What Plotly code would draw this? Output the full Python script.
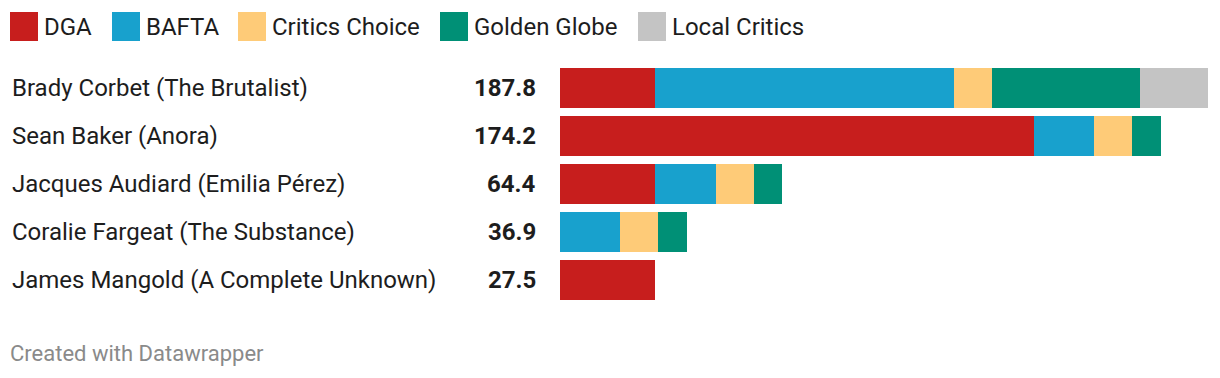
import plotly.graph_objects as go

W, H = 1220, 378

directors = [
    "Brady Corbet (The Brutalist)",
    "Sean Baker (Anora)",
    "Jacques Audiard (Emilia Pérez)",
    "Coralie Fargeat (The Substance)",
    "James Mangold (A Complete Unknown)",
]
series_names = ["DGA", "BAFTA", "Critics Choice", "Golden Globe", "Local Critics"]
dga = [27.5, 137.5, 27.5, 0, 27.5]
bafta = [86.6, 17.2, 17.6, 17.4, 0]
critics_choice = [11.0, 11.0, 11.0, 11.0, 0]
golden_globe = [43.0, 8.5, 8.3, 8.5, 0]
local_critics = [19.7, 0, 0, 0, 0]
colors = ["#c71e1d", "#18a1cd", "#fecb78", "#009076", "#c4c4c4"]

series_values = [dga, bafta, critics_choice, golden_globe, local_critics]
totals = [round(sum(v), 1) for v in zip(*series_values)]

FONT = "Roboto, Arial, sans-serif"

def px(x):
    return x / W

def py(y):
    return 1 - y / H

fig = go.Figure()
for name, vals, col in zip(series_names, series_values, colors):
    fig.add_trace(go.Bar(
        y=directors, x=vals, name=name, orientation="h",
        marker=dict(color=col, line=dict(width=0)),
        showlegend=False, hoverinfo="x+name",
    ))

# layout geometry
bar_left, bar_right = 560, 1208
plot_top, plot_bottom = 64, 304

annotations = []
for d, t in zip(directors, totals):
    annotations.append(dict(
        x=px(10), xref="paper", y=d, yref="y", text=d, showarrow=False,
        xanchor="left", yanchor="middle",
        font=dict(family=FONT, size=24, color="#1d1d1d"),
    ))
    annotations.append(dict(
        x=px(538), xref="paper", y=d, yref="y", text=f"<b>{t:.1f}</b>", showarrow=False,
        xanchor="right", yanchor="middle",
        font=dict(family=FONT, size=24, color="#1d1d1d"),
    ))

# legend
legend_x = [10, 112, 238, 440, 638]
shapes = []
for name, col, lx in zip(series_names, colors, legend_x):
    shapes.append(dict(
        type="rect", xref="paper", yref="paper",
        x0=px(lx), x1=px(lx + 28), y0=py(12), y1=py(41),
        fillcolor=col, line=dict(width=0),
    ))
    annotations.append(dict(
        x=px(lx + 32), xref="paper", y=py(26.5), yref="paper", text=name,
        showarrow=False, xanchor="left", yanchor="middle",
        font=dict(family=FONT, size=24, color="#1d1d1d"),
    ))

annotations.append(dict(
    x=px(8), xref="paper", y=py(353), yref="paper", text="Created with Datawrapper",
    showarrow=False, xanchor="left", yanchor="middle",
    font=dict(family=FONT, size=22, color="#8a8a8a"),
))

fig.update_layout(
    width=W, height=H,
    margin=dict(l=0, r=0, t=0, b=0),
    paper_bgcolor="white", plot_bgcolor="white",
    barmode="stack", bargap=8 / 48,
    xaxis=dict(domain=[px(bar_left), px(bar_right)], range=[0, max(totals)],
               visible=False, fixedrange=True),
    yaxis=dict(domain=[py(plot_bottom), py(plot_top)], autorange="reversed",
               visible=False, fixedrange=True),
    annotations=annotations, shapes=shapes,
    font=dict(family=FONT),
)

fig.write_html("out.html", config={"displayModeBar": False},
               post_script="document.body.style.margin='0';document.body.style.overflow='hidden';")
